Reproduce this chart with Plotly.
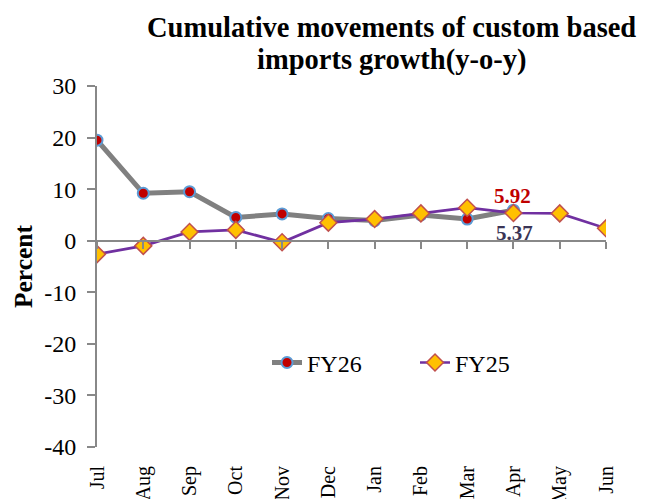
import plotly.graph_objects as go

months = ["Jul", "Aug", "Sep", "Oct", "Nov", "Dec", "Jan", "Feb", "Mar", "Apr", "May", "Jun"]
fy26 = [19.5, 9.2, 9.5, 4.5, 5.2, 4.3, 3.9, 5.0, 4.2, 5.92, None, None]
fy25 = [-2.6, -1.0, 1.7, 2.1, -0.3, 3.5, 4.2, 5.3, 6.4, 5.37, 5.3, 2.4]
y_ticks = [30, 20, 10, 0, -10, -20, -30, -40]
title_lines = ["Cumulative movements of custom based", "imports growth(y-o-y)"]

FONT = "Liberation Serif"
AXIS_GRAY = "#888888"

fig = go.Figure()

fig.add_trace(go.Scatter(
    x=months, y=fy26, name="FY26", mode="lines+markers",
    line=dict(color="#808080", width=5),
    marker=dict(symbol="circle", size=11, color="#C00000",
                line=dict(color="#5B9BD5", width=2)),
))
fig.add_trace(go.Scatter(
    x=months, y=fy25, name="FY25", mode="lines+markers",
    line=dict(color="#7030A0", width=2.7),
    marker=dict(symbol="diamond", size=13, color="#FFC000",
                line=dict(color="#C0504D", width=1.5)),
))

# Value labels for the latest month
apr = months.index("Apr")
fig.add_annotation(x=months[apr], y=fy26[apr], text=f"<b>{fy26[apr]:.2f}</b>",
                   showarrow=False, xshift=-1, yshift=14,
                   font=dict(family=FONT, size=21, color="#C00000"))
fig.add_annotation(x=months[apr], y=fy25[apr], text=f"<b>{fy25[apr]:.2f}</b>",
                   showarrow=False, xshift=1, yshift=-20,
                   font=dict(family=FONT, size=21, color="#3B3556"))

# Two-line title with tight line spacing
for i, line in enumerate(title_lines):
    fig.add_annotation(xref="paper", yref="paper", x=0.579, y=1 + (59 - 33 * i) / 361,
                       text=f"<b>{line}</b>", showarrow=False, xanchor="center",
                       yanchor="middle",
                       font=dict(family=FONT, size=28.5, color="black"))

# Category axis line drawn through zero, ticks on each month
fig.add_trace(go.Scatter(x=months, y=[None] * len(months), xaxis="x2",
                         showlegend=False, hoverinfo="skip"))

ymin, ymax = -40, 30
fig.update_layout(
    width=654, height=499,
    margin=dict(l=97, r=48, t=86, b=52, autoexpand=False),
    paper_bgcolor="white", plot_bgcolor="white",
    font=dict(family=FONT, color="black"),
    showlegend=True,
    legend=dict(orientation="h", x=0.334, xanchor="left", y=0.233, yanchor="middle",
                font=dict(family=FONT, size=24), bgcolor="rgba(0,0,0,0)",
                entrywidth=103, entrywidthmode="pixels"),
    xaxis=dict(range=[0, len(months) - 1], showline=False, showgrid=False, zeroline=False,
               ticks="", tickangle=-90, tickfont=dict(family=FONT, size=20),
               ticklabelstandoff=14, automargin=False),
    xaxis2=dict(range=[0, len(months) - 1], overlaying="x", anchor="free",
                position=(0 - ymin) / (ymax - ymin), showline=True, linecolor=AXIS_GRAY,
                linewidth=2, ticks="outside", tickcolor=AXIS_GRAY, ticklen=7, tickwidth=2,
                showticklabels=False, showgrid=False, zeroline=False, automargin=False),
    yaxis=dict(range=[ymin, ymax], tickvals=y_ticks,
               ticktext=[str(v) for v in y_ticks],
               showgrid=False, zeroline=False,
               showline=True, linecolor=AXIS_GRAY, linewidth=2,
               ticks="outside", tickcolor=AXIS_GRAY, ticklen=8, tickwidth=2,
               ticklabelstandoff=6, automargin=False,
               tickfont=dict(family=FONT, size=24),
               title=dict(text="<b>Percent</b>", font=dict(family=FONT, size=25.5), standoff=4)),
)

fig.write_html("out.html")
